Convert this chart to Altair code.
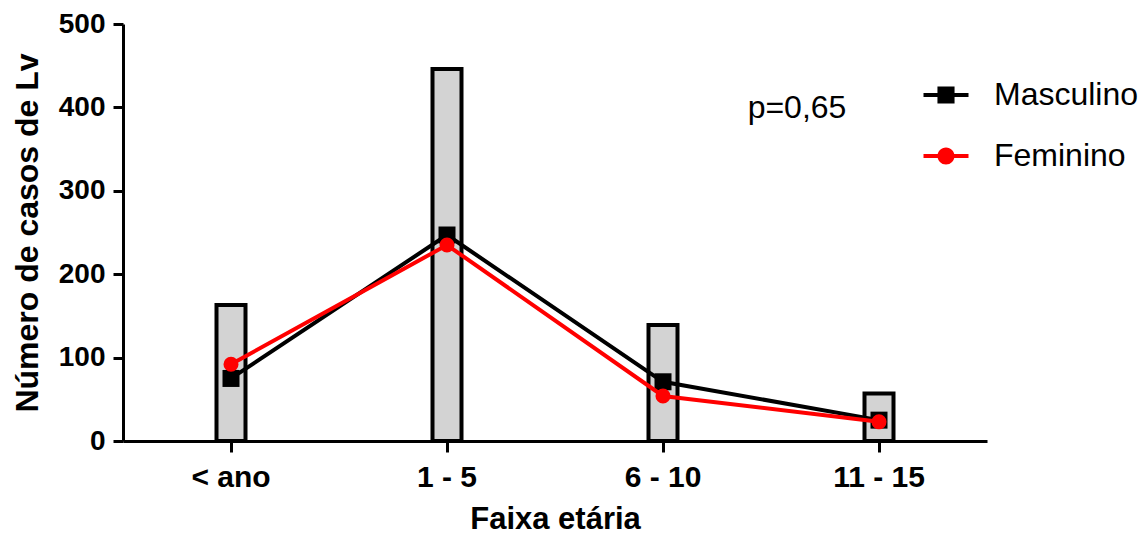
import altair as alt
import pandas as pd

categorias = ["< ano", "1 - 5", "6 - 10", "11 - 15"]
total = [163, 446, 139, 57]
masculino = [75, 247, 71, 25]
feminino = [92, 235, 54, 23]
series = ["Masculino", "Feminino"]
cores = ["#000000", "#ff0000"]
anotacao = "p=0,65"

FONT = "Liberation Sans, Arial, Helvetica, sans-serif"

df_bar = pd.DataFrame({"faixa": categorias, "total": total})
df_m = pd.DataFrame({"faixa": categorias, "casos": masculino, "sexo": "Masculino"})
df_f = pd.DataFrame({"faixa": categorias, "casos": feminino, "sexo": "Feminino"})
df_leg = pd.DataFrame({"faixa": [categorias[0]] * 2, "casos": [1000, 1000], "sexo": series})

x_enc = alt.X(
    "faixa:N",
    sort=categorias,
    scale=alt.Scale(domain=categorias, paddingInner=0, paddingOuter=0),
    axis=alt.Axis(
        title="Faixa etária",
        labelAngle=0,
        labelFont=FONT,
        labelFontSize=30,
        labelFontWeight="bold",
        labelColor="black",
        labelPadding=10,
        tickSize=11,
        tickWidth=3,
        tickColor="black",
        domainWidth=3,
        domainColor="black",
        titleFont=FONT,
        titleFontSize=31,
        titleFontWeight="bold",
        titleColor="black",
        titlePadding=12,
        grid=False,
    ),
)

y_scale = alt.Scale(domain=[0, 500], nice=False, zero=True)
y_axis = alt.Axis(
    title="Número de casos de Lv",
    values=[0, 100, 200, 300, 400, 500],
    labelFont=FONT,
    labelFontSize=28,
    labelFontWeight="bold",
    labelColor="black",
    labelPadding=8,
    tickSize=10,
    tickWidth=3,
    tickColor="black",
    domainWidth=3,
    domainColor="black",
    titleFont=FONT,
    titleFontSize=32,
    titleFontWeight="bold",
    titleColor="black",
    titlePadding=14,
    grid=False,
)

bars = alt.Chart(df_bar).mark_bar(
    width=29, fill="#d3d3d3", stroke="black", strokeWidth=4
).encode(
    x=x_enc,
    y=alt.Y("total:Q", scale=y_scale, axis=y_axis),
)

def serie(df, cor, marker):
    base = alt.Chart(df).encode(
        x=alt.X("faixa:N", sort=categorias),
        y=alt.Y("casos:Q"),
    )
    line = base.mark_line(color=cor, strokeWidth=4)
    if marker == "square":
        pts = base.mark_square(color=cor, size=289, opacity=1)
    else:
        pts = base.mark_circle(color=cor, size=227, opacity=1)
    return line + pts

sq_path = "M-1.5,-0.13H1.5V0.13H-1.5Z M-0.57,-0.57H0.57V0.57H-0.57Z"
ci_path = "M-1.5,-0.13H1.5V0.13H-1.5Z M-0.57,0A0.57 0.57 0 1 1 0.57,0A0.57 0.57 0 1 1 -0.57,0Z"

def legenda():
    return alt.Legend(
        title=None,
        orient="none",
        legendX=807,
        legendY=55,
        labelFont=FONT,
        labelFontSize=32,
        labelColor="black",
        labelOffset=32,
        symbolSize=900,
        symbolStrokeWidth=0,
        symbolOpacity=1,
        rowPadding=29,
        padding=0,
    )

legend_layer = alt.Chart(df_leg).mark_point(
    filled=True, size=900, clip=True, opacity=1, strokeWidth=0
).encode(
    x=alt.X("faixa:N", sort=categorias),
    y=alt.Y("casos:Q"),
    color=alt.Color("sexo:N", scale=alt.Scale(domain=series, range=cores), legend=legenda()),
    shape=alt.Shape("sexo:N", scale=alt.Scale(domain=series, range=[sq_path, ci_path]), legend=legenda()),
)

texto = alt.Chart(pd.DataFrame({"t": [anotacao]})).mark_text(
    font=FONT, fontSize=32, color="black", align="center", baseline="middle"
).encode(
    text="t:N",
    x=alt.value(674),
    y=alt.value(84),
)

chart = alt.layer(
    bars,
    serie(df_m, cores[0], "square"),
    serie(df_f, cores[1], "circle"),
    legend_layer,
    texto,
).properties(
    width=864,
    height=417,
    autosize=alt.AutoSizeParams(type="none"),
    padding={"left": 115, "top": 16, "right": 151, "bottom": 95},
).configure_view(stroke=None)

chart.save("out.html", embed_options={"renderer": "svg", "actions": False})
